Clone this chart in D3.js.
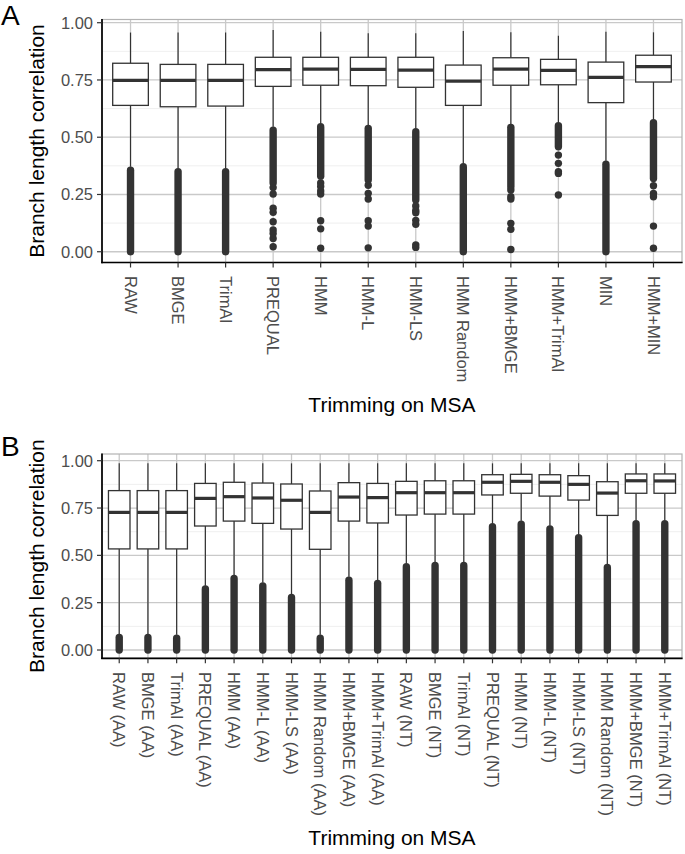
<!DOCTYPE html>
<html>
<head>
<meta charset="utf-8">
<script src="https://cdn.jsdelivr.net/npm/d3@7"></script>
<style>
  html, body { margin: 0; padding: 0; background: #fff; }
  svg { display: block; }
</style>
</head>
<body>
<svg id="chart" width="685" height="854"></svg>
<script>
// ---------------- DATA ----------------
const yTicks = [0, 0.25, 0.5, 0.75, 1.0];
const yTickLabels = ["0.00", "0.25", "0.50", "0.75", "1.00"];
const yMinor = [0.125, 0.375, 0.625, 0.875];

// Panel A
const catsA = ["RAW", "BMGE", "TrimAl", "PREQUAL", "HMM", "HMM-L", "HMM-LS", "HMM Random", "HMM+BMGE", "HMM+TrimAl", "MIN", "HMM+MIN"];
const whiskerHiA = [0.957, 0.957, 0.957, 0.968, 0.961, 0.954, 0.954, 0.964, 0.958, 0.943, 0.961, 0.958];
const q3A        = [0.823, 0.818, 0.818, 0.849, 0.849, 0.849, 0.849, 0.815, 0.847, 0.840, 0.828, 0.858];
const medianA    = [0.748, 0.748, 0.748, 0.795, 0.797, 0.796, 0.793, 0.745, 0.797, 0.792, 0.761, 0.808];
const q1A        = [0.639, 0.633, 0.636, 0.722, 0.727, 0.725, 0.718, 0.639, 0.727, 0.729, 0.651, 0.741];
const whiskerLoA = [0.371, 0.365, 0.365, 0.546, 0.561, 0.553, 0.539, 0.386, 0.558, 0.565, 0.397, 0.578];
// dense runs of overlapping outliers [low, high]
const denseA = [[0, 0.356], [0, 0.350], [0, 0.350], [0.300, 0.531], [0.330, 0.546], [0.313, 0.538],
                [0.226, 0.524], [0, 0.371], [0.284, 0.543], [0.458, 0.550], [0, 0.382], [0.320, 0.563]];
// isolated outliers
const sparseA = [
  [], [], [],
  [0.280, 0.252, 0.190, 0.172, 0.131, 0.095, 0.080, 0.058, 0.022],
  [0.300, 0.285, 0.265, 0.252, 0.135, 0.100, 0.015],
  [0.290, 0.255, 0.230, 0.135, 0.112, 0.017],
  [0.200, 0.180, 0.170, 0.137, 0.120, 0.030, 0.019],
  [],
  [0.270, 0.240, 0.230, 0.124, 0.098, 0.010],
  [0.422, 0.386, 0.349, 0.342, 0.248],
  [],
  [0.288, 0.255, 0.240, 0.112, 0.015]
];

// Panel B
const catsB = ["RAW (AA)", "BMGE (AA)", "TrimAl (AA)", "PREQUAL (AA)", "HMM (AA)", "HMM-L (AA)", "HMM-LS (AA)", "HMM Random (AA)", "HMM+BMGE (AA)", "HMM+TrimAl (AA)",
               "RAW (NT)", "BMGE (NT)", "TrimAl (NT)", "PREQUAL (NT)", "HMM (NT)", "HMM-L (NT)", "HMM-LS (NT)", "HMM Random (NT)", "HMM+BMGE (NT)", "HMM+TrimAl (NT)"];
const whiskerHiB = [0.986, 0.986, 0.986, 0.986, 0.986, 0.986, 0.986, 0.986, 0.986, 0.986,
                    0.986, 0.986, 0.986, 0.986, 0.986, 0.986, 0.986, 0.986, 0.986, 0.986];
const q3B        = [0.842, 0.842, 0.842, 0.880, 0.886, 0.882, 0.877, 0.840, 0.884, 0.880,
                    0.891, 0.894, 0.894, 0.926, 0.928, 0.926, 0.921, 0.889, 0.930, 0.930];
const medianB    = [0.727, 0.727, 0.727, 0.801, 0.810, 0.803, 0.791, 0.727, 0.808, 0.805,
                    0.831, 0.831, 0.831, 0.886, 0.891, 0.886, 0.875, 0.829, 0.894, 0.893];
const q1B        = [0.534, 0.534, 0.534, 0.655, 0.681, 0.669, 0.639, 0.532, 0.681, 0.671,
                    0.713, 0.718, 0.718, 0.819, 0.828, 0.813, 0.792, 0.711, 0.828, 0.828];
const whiskerLoB = [0.085, 0.085, 0.080, 0.340, 0.396, 0.357, 0.296, 0.080, 0.387, 0.370,
                    0.458, 0.465, 0.465, 0.669, 0.683, 0.657, 0.611, 0.454, 0.685, 0.685];
const denseB = [[0, 0.066], [0, 0.066], [0, 0.062], [0, 0.322], [0, 0.378], [0, 0.339], [0, 0.278], [0, 0.062], [0, 0.369], [0, 0.352],
                [0, 0.440], [0, 0.447], [0, 0.447], [0, 0.651], [0, 0.665], [0, 0.639], [0, 0.593], [0, 0.436], [0, 0.667], [0, 0.667]];
const sparseB = catsB.map(() => []);

// ---------------- DRAWING ----------------
const FONT = '"Liberation Sans", Arial, Helvetica, sans-serif';
const svg = d3.select("#chart");
const DARK = "#333333";

function drawPanel(cfg) {
  const { cats, wHi, q3, med, q1, wLo, dense, sparse, left, right, top, bottom, domain, letter, letterY, titleY, labelY } = cfg;
  const g = svg.append("g");
  const x = d3.scalePoint().domain(cats).range([left, right]).padding(0.6);
  const y = d3.scaleLinear().domain(domain).range([bottom, top]);
  const step = x.step();
  const bw = step * 0.75;
  const r = 3.7;

  // minor grid
  g.selectAll(".minor").data(yMinor).join("line")
    .attr("x1", left).attr("x2", right)
    .attr("y1", d => y(d)).attr("y2", d => y(d))
    .attr("stroke", "#ebebeb").attr("stroke-width", 0.8);
  // major grid
  g.selectAll(".majorY").data(yTicks).join("line")
    .attr("x1", left).attr("x2", right)
    .attr("y1", d => y(d)).attr("y2", d => y(d))
    .attr("stroke", "#c9c9c9").attr("stroke-width", 1.3);
  g.selectAll(".majorX").data(cats).join("line")
    .attr("x1", d => x(d)).attr("x2", d => x(d))
    .attr("y1", top).attr("y2", bottom)
    .attr("stroke", "#c9c9c9").attr("stroke-width", 1.3);

  // panel border (top/right grey)
  g.append("rect").attr("x", left).attr("y", top).attr("width", right - left).attr("height", bottom - top)
    .attr("fill", "none").attr("stroke", "#b3b3b3").attr("stroke-width", 1.2);

  const idx = d3.range(cats.length);

  // whiskers
  g.selectAll(".wh").data(idx).join("line")
    .attr("x1", i => x(cats[i])).attr("x2", i => x(cats[i]))
    .attr("y1", i => y(wHi[i])).attr("y2", i => y(q3[i]))
    .attr("stroke", DARK).attr("stroke-width", 1.2);
  g.selectAll(".wl").data(idx).join("line")
    .attr("x1", i => x(cats[i])).attr("x2", i => x(cats[i]))
    .attr("y1", i => y(q1[i])).attr("y2", i => y(wLo[i]))
    .attr("stroke", DARK).attr("stroke-width", 1.2);

  // dense outlier runs
  g.selectAll(".dense").data(idx).join("line")
    .attr("x1", i => x(cats[i])).attr("x2", i => x(cats[i]))
    .attr("y1", i => y(dense[i][0])).attr("y2", i => y(dense[i][1]))
    .attr("stroke", DARK).attr("stroke-width", 2 * r).attr("stroke-linecap", "round");
  // isolated outliers
  const pts = [];
  idx.forEach(i => sparse[i].forEach(v => pts.push([i, v])));
  g.selectAll(".pt").data(pts).join("circle")
    .attr("cx", d => x(cats[d[0]])).attr("cy", d => y(d[1])).attr("r", r)
    .attr("fill", DARK);

  // boxes
  g.selectAll(".box").data(idx).join("rect")
    .attr("x", i => x(cats[i]) - bw / 2).attr("width", bw)
    .attr("y", i => y(q3[i])).attr("height", i => y(q1[i]) - y(q3[i]))
    .attr("fill", "#fff").attr("stroke", DARK).attr("stroke-width", 1.3);
  g.selectAll(".med").data(idx).join("line")
    .attr("x1", i => x(cats[i]) - bw / 2).attr("x2", i => x(cats[i]) + bw / 2)
    .attr("y1", i => y(med[i])).attr("y2", i => y(med[i]))
    .attr("stroke", DARK).attr("stroke-width", 3.2);

  // axis lines (left & bottom, black)
  g.append("line").attr("x1", left).attr("x2", left).attr("y1", top - 0.6).attr("y2", bottom + 0.8)
    .attr("stroke", "#000").attr("stroke-width", 1.7);
  g.append("line").attr("x1", left - 0.8).attr("x2", right + 0.6).attr("y1", bottom).attr("y2", bottom)
    .attr("stroke", "#000").attr("stroke-width", 1.7);

  // y axis ticks & labels
  g.selectAll(".yt").data(yTicks).join("line")
    .attr("x1", left - 5).attr("x2", left).attr("y1", d => y(d)).attr("y2", d => y(d))
    .attr("stroke", DARK).attr("stroke-width", 1.2);
  g.selectAll(".yl").data(yTicks).join("text")
    .attr("x", left - 9).attr("y", d => y(d)).attr("dy", "0.36em")
    .attr("text-anchor", "end").attr("fill", "#4d4d4d")
    .style("font-family", FONT).style("font-size", "16.5px")
    .text((d, i) => yTickLabels[i]);

  // x axis ticks & labels
  g.selectAll(".xt").data(cats).join("line")
    .attr("x1", d => x(d)).attr("x2", d => x(d)).attr("y1", bottom).attr("y2", bottom + 5)
    .attr("stroke", DARK).attr("stroke-width", 1.2);
  g.selectAll(".xl").data(cats).join("text")
    .attr("transform", d => `translate(${x(d)},${labelY}) rotate(90)`)
    .attr("dy", "0.36em").attr("text-anchor", "start").attr("fill", "#4d4d4d")
    .style("font-family", FONT).style("font-size", "16.5px")
    .text(d => d);

  // axis titles
  g.append("text")
    .attr("transform", `translate(43.5,${(top + bottom) / 2}) rotate(-90)`)
    .attr("text-anchor", "middle").attr("fill", "#000")
    .style("font-family", FONT).style("font-size", "21px")
    .text("Branch length correlation");
  g.append("text")
    .attr("x", (left + right) / 2).attr("y", titleY)
    .attr("text-anchor", "middle").attr("fill", "#000")
    .style("font-family", FONT).style("font-size", "21px")
    .text("Trimming on MSA");

  // panel letter
  g.append("text").attr("x", 1).attr("y", letterY).attr("fill", "#000")
    .style("font-family", FONT).style("font-size", "28px")
    .text(letter);
}

drawPanel({
  cats: catsA, wHi: whiskerHiA, q3: q3A, med: medianA, q1: q1A, wLo: whiskerLoA, dense: denseA, sparse: sparseA,
  left: 102, right: 682, top: 19.5, bottom: 262.5, domain: [-0.047, 1.014],
  letter: "A", letterY: 25, titleY: 412, labelY: 276
});
drawPanel({
  cats: catsB, wHi: whiskerHiB, q3: q3B, med: medianB, q1: q1B, wLo: whiskerLoB, dense: denseB, sparse: sparseB,
  left: 102, right: 682, top: 454, bottom: 658.3, domain: [-0.0438, 1.0354],
  letter: "B", letterY: 455.5, titleY: 845, labelY: 672
});
</script>
</body>
</html>
